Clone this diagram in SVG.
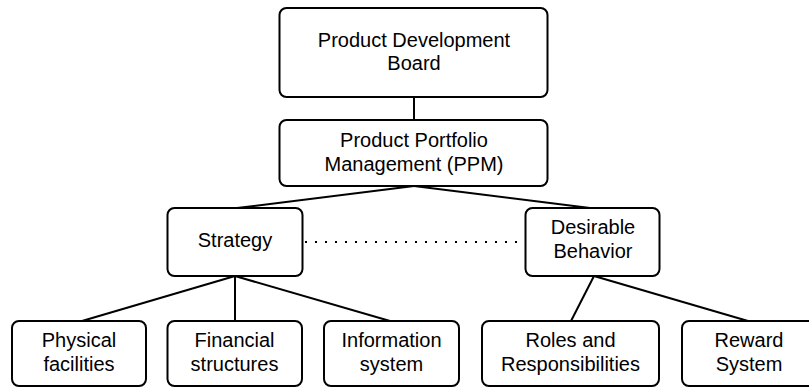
<svg xmlns="http://www.w3.org/2000/svg" width="809" height="387" viewBox="0 0 809 387">
<style>
.box{fill:#fff;stroke:#000;stroke-width:2}
.t{font-family:"Liberation Sans",Arial,sans-serif;font-size:20px;fill:#000;text-anchor:middle}
.c{stroke:#000;stroke-width:2;fill:none}
.d{stroke:#000;stroke-width:2;fill:none;stroke-dasharray:2 8}
</style>
<rect width="809" height="387" fill="#fff"/>
<g id="connectors">
<line class="c" x1="414" y1="97" x2="414" y2="120"/>
<line class="c" x1="414" y1="186" x2="237" y2="208"/>
<line class="c" x1="414" y1="186" x2="590" y2="208"/>
<line class="c" x1="235" y1="276" x2="82" y2="321"/>
<line class="c" x1="235" y1="276" x2="235" y2="321"/>
<line class="c" x1="235" y1="276" x2="390" y2="321"/>
<line class="c" x1="594" y1="276" x2="571" y2="321"/>
<line class="c" x1="594" y1="276" x2="748" y2="321"/>
<line class="d" x1="305" y1="242" x2="524" y2="242"/>
</g>
<g id="board">
<rect class="box" x="279.5" y="8" width="268" height="89" rx="7"/>
<text class="t" x="414" y="47">Product Development</text>
<text class="t" x="414" y="70">Board</text>
</g>
<g id="ppm">
<rect class="box" x="279.5" y="120" width="268" height="66" rx="7"/>
<text class="t" x="414" y="147">Product Portfolio</text>
<text class="t" x="414" y="171">Management (PPM)</text>
</g>
<g id="strategy">
<rect class="box" x="167.5" y="208" width="135" height="68" rx="7"/>
<text class="t" x="235" y="247">Strategy</text>
</g>
<g id="desirable">
<rect class="box" x="525.5" y="208" width="134" height="68" rx="7"/>
<text class="t" x="593" y="234">Desirable</text>
<text class="t" x="593" y="258">Behavior</text>
</g>
<g id="physical">
<rect class="box" x="12" y="321" width="134" height="65" rx="7"/>
<text class="t" x="79" y="347">Physical</text>
<text class="t" x="79" y="371">facilities</text>
</g>
<g id="financial">
<rect class="box" x="167.5" y="321" width="134.5" height="65" rx="7"/>
<text class="t" x="234.5" y="347">Financial</text>
<text class="t" x="234.5" y="371">structures</text>
</g>
<g id="information">
<rect class="box" x="324" y="321" width="135" height="65" rx="7"/>
<text class="t" x="391.5" y="347">Information</text>
<text class="t" x="391.5" y="371">system</text>
</g>
<g id="roles">
<rect class="box" x="482" y="321" width="177" height="65" rx="7"/>
<text class="t" x="570.5" y="347">Roles and</text>
<text class="t" x="570.5" y="371">Responsibilities</text>
</g>
<g id="reward">
<rect class="box" x="682" y="321" width="134" height="65" rx="7"/>
<text class="t" x="749" y="347">Reward</text>
<text class="t" x="749" y="371">System</text>
</g>
</svg>
